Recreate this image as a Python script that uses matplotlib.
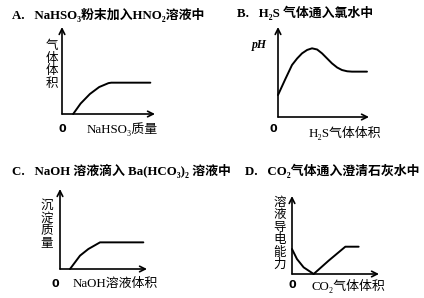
import matplotlib
matplotlib.use('Agg')
import matplotlib.pyplot as plt

FAM = ['Liberation Serif', 'Noto Sans CJK SC', 'DejaVu Sans']
plt.rcParams['font.family'] = FAM

W, H = 424, 298

# panel data (x, y in arbitrary units 0..10)
a_x = [1.2, 2.0, 3.0, 4.0, 5.0, 5.3, 9.5]
a_y = [0.0, 1.2, 2.3, 3.1, 3.55, 3.6, 3.6]

b_x = [0.0, 0.8, 1.54, 2.1, 2.64, 3.2, 3.74, 4.3, 4.84, 5.4, 5.93, 6.5, 7.03, 7.6, 8.13, 9.78]
b_y = [2.44, 4.2, 5.78, 6.5, 7.07, 7.45, 7.63, 7.5, 7.07, 6.5, 5.96, 5.5, 5.22, 5.08, 5.04, 5.04]

c_x = [1.15, 2.3, 3.26, 4.6, 9.58]
c_y = [0.0, 1.67, 2.5, 3.33, 3.33]

d_x = [0.0, 0.57, 1.34, 2.49, 4.21, 6.13, 7.66]
d_y = [3.2, 1.92, 0.85, 0.0, 1.71, 3.5, 3.5]

titles = ['A.   NaHSO₃粉末加入HNO₂溶液中',
          'B.   H₂S 气体通入氯水中',
          'C.   NaOH 溶液滴入 Ba(HCO₃)₂ 溶液中',
          'D.   CO₂气体通入澄清石灰水中']
ylabels = ['气体体积', 'pH', '沉淀质量', '溶液导电能力']
xlabels = ['NaHSO₃质量', 'H₂S气体体积', 'NaOH溶液体积', 'CO₂气体体积']

# layout in pixels: origin x, origin y, x-end, y-top
boxes = [(62, 114, 155, 27), (278, 117, 369, 27),
         (60, 269, 147, 189), (292, 274, 379, 196)]
title_pos = [(12, 15), (237, 13), (12, 171), (245, 171)]
ylab_pos = [(52, 65), (259, 45), (47, 225), (280, 234)]
xlab_pos = [(87, 129), (309, 133), (73, 284), (312, 286)]
zero_pos = [(62, 129), (273, 129), (55, 284), (292, 285)]
pitch = 12.5

fig = plt.figure(figsize=(W / 100, H / 100), dpi=100)
fig.patch.set_facecolor('white')

def fx(x):
    return x / W

def fy(y):
    return 1 - y / H

series = [(a_x, a_y), (b_x, b_y), (c_x, c_y), (d_x, d_y)]
for i, (xs, ys) in enumerate(series):
    ox, oy, ex, ty = boxes[i]
    ax = fig.add_axes([fx(ox), fy(oy), (ex - ox) / W, (oy - ty) / H])
    ax.set_xlim(0, 10)
    ax.set_ylim(0, 10)
    ax.axis('off')
    ax.plot(xs, ys, color='k', lw=1.4, solid_capstyle='round',
            solid_joinstyle='round', clip_on=False)
    ax.annotate('', xy=(10, 0), xytext=(0, 0), annotation_clip=False,
                arrowprops=dict(arrowstyle='->', lw=1.2, color='k',
                                shrinkA=0, shrinkB=0, mutation_scale=10))
    ax.annotate('', xy=(0, 10), xytext=(0, 0), annotation_clip=False,
                arrowprops=dict(arrowstyle='->', lw=1.2, color='k',
                                shrinkA=0, shrinkB=0, mutation_scale=10))

    tx, tyy = title_pos[i]
    fig.text(fx(tx), fy(tyy), titles[i], fontsize=9.3, fontweight='bold',
             ha='left', va='center')
    lx, ly = ylab_pos[i]
    if ylabels[i] == 'pH':
        fig.text(fx(lx), fy(ly), 'pH', fontsize=8.5, fontweight='bold',
                 style='italic', ha='center', va='center')
    else:
        n = len(ylabels[i])
        for k, ch in enumerate(ylabels[i]):
            cy = ly + (k - (n - 1) / 2) * pitch
            fig.text(fx(lx), fy(cy), ch, fontsize=9, ha='center', va='center')
    xx, xy = xlab_pos[i]
    fig.text(fx(xx), fy(xy), xlabels[i], fontsize=9.3, ha='left', va='center')
    zx, zy = zero_pos[i]
    fig.text(fx(zx), fy(zy), '0', fontsize=8, fontweight='bold',
             ha='center', va='center', family='DejaVu Sans')

fig.savefig('out.png', dpi=100)
